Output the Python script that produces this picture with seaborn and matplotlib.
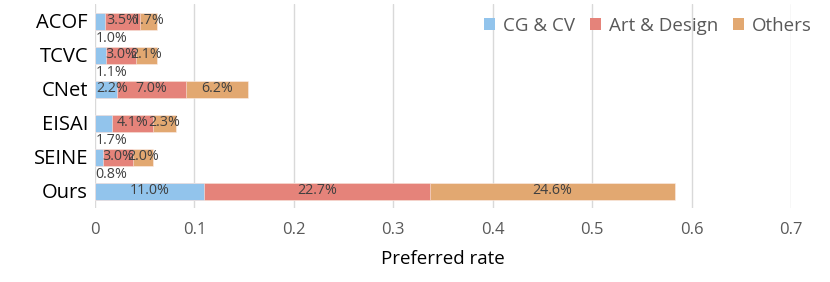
import numpy as np
import pandas as pd
import matplotlib
matplotlib.use("Agg")
import matplotlib.pyplot as plt
import seaborn as sns
from matplotlib.patches import Patch

methods = ["ACOF", "TCVC", "CNet", "EISAI", "SEINE", "Ours"]
cg_cv = [0.010, 0.011, 0.022, 0.017, 0.008, 0.110]
art_design = [0.035, 0.030, 0.070, 0.041, 0.030, 0.227]
others = [0.017, 0.021, 0.062, 0.023, 0.020, 0.246]
series_names = ["CG & CV", "Art & Design", "Others"]
colors = ["#92C4EC", "#E5837A", "#E2A871"]
xticks = [0, 0.1, 0.2, 0.3, 0.4, 0.5, 0.6, 0.7]
xtick_labels = ["0", "0.1", "0.2", "0.3", "0.4", "0.5", "0.6", "0.7"]

sns.set_theme(style="white")
plt.rcParams["font.family"] = ["Open Sans", "DejaVu Sans"]

df = pd.DataFrame({"method": methods, "cg": cg_cv, "art": art_design, "oth": others})
df["c1"] = df["cg"]
df["c2"] = df["cg"] + df["art"]
df["c3"] = df["c2"] + df["oth"]

fig = plt.figure(figsize=(8.3, 2.82), dpi=100)
ax = fig.add_axes([95 / 830, 1 - 208 / 282, (791 - 95) / 830, 204 / 282])

for col, c in zip(["c3", "c2", "c1"], colors[::-1]):
    sns.barplot(data=df, x=col, y="method", color=c, width=0.5, ax=ax,
                edgecolor="#FBEDE8", linewidth=0.4, saturation=1, orient="h")

txt_color = "#404040"
fs = 10.3
for i, r in df.iterrows():
    segs = [(0, r["cg"]), (r["c1"], r["art"]), (r["c2"], r["oth"])]
    for k, (start, w) in enumerate(segs):
        lab = f"{w*100:.1f}%"
        if k == 0 and w < 0.02:
            ax.text(0.0005, i + 0.52, lab, ha="left", va="center", fontsize=fs, color=txt_color)
        elif k == 0 and w < 0.05:
            ax.text(0.001, i, lab, ha="left", va="center", fontsize=fs, color=txt_color)
        else:
            ax.text(start + w / 2, i, lab, ha="center", va="center", fontsize=fs, color=txt_color)

ax.set_xlim(0, 0.7)
ax.set_ylim(5.5, -0.5)
ax.set_xticks(xticks)
ax.set_xticklabels(xtick_labels)
ax.xaxis.grid(True, color="#D9D9D9", linewidth=1)
ax.set_axisbelow(True)
for s in ax.spines.values():
    s.set_visible(False)
ax.tick_params(axis="x", labelsize=12, colors="#595959", length=0, pad=10)
ax.tick_params(axis="y", labelsize=14.5, colors="black", length=0, pad=5)
ax.set_ylabel("")
ax.set_xlabel("Preferred rate", fontsize=13.5, color="black", labelpad=9)

handles = [Patch(facecolor=c, edgecolor="none") for c in colors]
fig.legend(handles, series_names, loc="upper right", bbox_to_anchor=(0.998, 1.0),
           ncol=3, frameon=False, fontsize=13.5, handlelength=0.6, handleheight=0.6,
           handletextpad=0.4, columnspacing=0.8, labelcolor="#595959")

fig.savefig("out.png", dpi=100)
